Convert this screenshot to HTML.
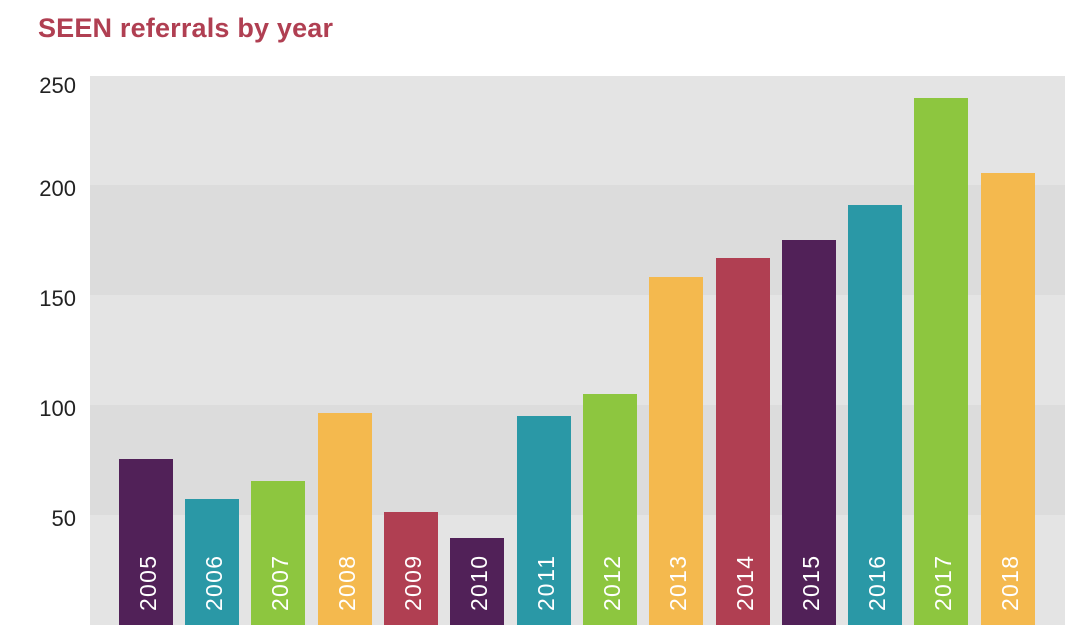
<!DOCTYPE html><html><head><style>body{margin:0;background:#fff}svg{display:block}</style></head><body>
<svg width="1080" height="639" xmlns="http://www.w3.org/2000/svg" font-family="Liberation Sans, sans-serif">
<text x="38" y="37" font-size="27" font-weight="bold" fill="#b03f52" textLength="295">SEEN referrals by year</text>
<rect x="90" y="76" width="975" height="549" fill="#e4e4e4"/>
<rect x="90" y="185" width="975" height="110" fill="#dcdcdc"/>
<rect x="90" y="405" width="975" height="110" fill="#dcdcdc"/>
<g font-size="22" fill="#222" text-anchor="end">
<text x="76" y="93">250</text><text x="76" y="196">200</text><text x="76" y="306">150</text><text x="76" y="416">100</text><text x="76" y="526">50</text>
</g>
<g>
<rect x="119" y="459" width="54" height="166" fill="#512158"/>
<rect x="185" y="499" width="54" height="126" fill="#2a98a6"/>
<rect x="251" y="481" width="54" height="144" fill="#8dc63f"/>
<rect x="318" y="413" width="54" height="212" fill="#f4b94e"/>
<rect x="384" y="512" width="54" height="113" fill="#b03f52"/>
<rect x="450" y="538" width="54" height="87" fill="#512158"/>
<rect x="517" y="416" width="54" height="209" fill="#2a98a6"/>
<rect x="583" y="394" width="54" height="231" fill="#8dc63f"/>
<rect x="649" y="277" width="54" height="348" fill="#f4b94e"/>
<rect x="716" y="258" width="54" height="367" fill="#b03f52"/>
<rect x="782" y="240" width="54" height="385" fill="#512158"/>
<rect x="848" y="205" width="54" height="420" fill="#2a98a6"/>
<rect x="914" y="98" width="54" height="527" fill="#8dc63f"/>
<rect x="981" y="173" width="54" height="452" fill="#f4b94e"/>
</g>
<g font-size="23" fill="#fff">
<text transform="translate(156,611) rotate(-90)" textLength="55">2005</text>
<text transform="translate(222,611) rotate(-90)" textLength="55">2006</text>
<text transform="translate(288,611) rotate(-90)" textLength="55">2007</text>
<text transform="translate(355,611) rotate(-90)" textLength="55">2008</text>
<text transform="translate(421,611) rotate(-90)" textLength="55">2009</text>
<text transform="translate(487,611) rotate(-90)" textLength="55">2010</text>
<text transform="translate(554,611) rotate(-90)" textLength="55">2011</text>
<text transform="translate(620,611) rotate(-90)" textLength="55">2012</text>
<text transform="translate(686,611) rotate(-90)" textLength="55">2013</text>
<text transform="translate(753,611) rotate(-90)" textLength="55">2014</text>
<text transform="translate(819,611) rotate(-90)" textLength="55">2015</text>
<text transform="translate(885,611) rotate(-90)" textLength="55">2016</text>
<text transform="translate(951,611) rotate(-90)" textLength="55">2017</text>
<text transform="translate(1018,611) rotate(-90)" textLength="55">2018</text>
</g>
</svg></body></html>
